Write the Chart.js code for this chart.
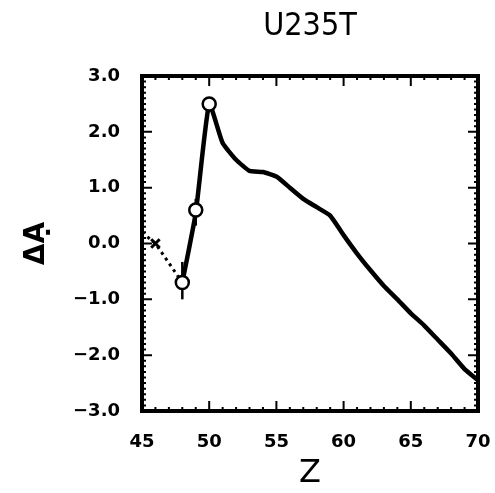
<!DOCTYPE html>
<html>
<head>
<meta charset="utf-8">
<script src="https://cdn.jsdelivr.net/npm/chart.js@4"></script>
<style>
  html, body { margin: 0; padding: 0; background: #fff; }
  #wrap { width: 495px; height: 493px; }
</style>
</head>
<body>
<div id="wrap"><canvas id="grafico"></canvas></div>
<script>
// curva calculada (linha cheia)
const z_linha = [48, 49, 50, 51, 52, 53, 54, 55, 56, 57, 58, 59, 60, 61, 62, 63, 64, 65, 66, 67, 68, 69, 70]
const dA_linha = [-0.7, 0.55, 2.5, 1.8, 1.5, 1.3, 1.28, 1.2, 1.0, 0.8, 0.65, 0.5, 0.15, -0.18, -0.48, -0.76, -1.0, -1.25, -1.47, -1.72, -1.97, -2.25, -2.45]

// trecho pontilhado
const z_pont = [45, 46, 48]
const dA_pont = [0.2, 0.0, -0.7]

// pontos experimentais (circulos) com barras de erro
const z_exp = [48, 49, 50]
const dA_exp = [-0.7, 0.6, 2.5]
const erro_baixo = [-1.0, 0.32, 2.5]
const erro_alto = [-0.33, 0.8, 2.5]

// ponto marcado com x
const z_cruz = [46]
const dA_cruz = [0.0]

const titulo_texto = 'U235T'

const preto = '#000'
const fonte = "'DejaVu Sans', 'Noto Sans', sans-serif"

const pares = (xs, ys) => xs.map((x, i) => ({ x: x, y: ys[i] }))

const barras = z_exp.map((z, i) => ({
    data: [{ x: z, y: erro_baixo[i] }, { x: z, y: erro_alto[i] }],
    showLine: true,
    borderColor: preto,
    borderWidth: 2.5,
    pointRadius: 0,
    order: 3
}))

// titulo centrado sobre a area do grafico
const titulo = {
    id: 'titulo',
    afterDraw(chart) {
        const { ctx, chartArea: a } = chart
        ctx.save()
        ctx.fillStyle = preto
        ctx.font = "32px 'DejaVu Sans Condensed', 'Liberation Sans Narrow', sans-serif"
        ctx.textAlign = 'center'
        ctx.textBaseline = 'middle'
        ctx.fillText(titulo_texto, (a.left + a.right) / 2, 27)
        ctx.restore()
    }
}

const moldura = {
    id: 'moldura',
    afterDatasetsDraw(chart) {
        const { ctx, chartArea: a, scales } = chart
        const sx = scales.x, sy = scales.y
        ctx.save()
        ctx.strokeStyle = preto
        ctx.lineWidth = 2
        for (let v = sx.min; v <= sx.max + 1e-6; v += 1) {
            const px = sx.getPixelForValue(v)
            const len = (Math.round(v) % 5 === 0) ? 10 : 4
            ctx.beginPath()
            ctx.moveTo(px, a.bottom); ctx.lineTo(px, a.bottom - len)
            ctx.moveTo(px, a.top); ctx.lineTo(px, a.top + len)
            ctx.stroke()
        }
        for (let k = -30; k <= 30; k++) {
            const py = sy.getPixelForValue(k / 10)
            const len = (k % 10 === 0) ? 10 : 4
            ctx.beginPath()
            ctx.moveTo(a.left, py); ctx.lineTo(a.left + len, py)
            ctx.moveTo(a.right, py); ctx.lineTo(a.right - len, py)
            ctx.stroke()
        }
        ctx.lineWidth = 4
        ctx.strokeRect(a.left, a.top, a.right - a.left, a.bottom - a.top)
        ctx.restore()
    }
}

const data = {
    datasets: [
        {
            data: pares(z_linha, dA_linha),
            showLine: true,
            borderColor: preto,
            borderWidth: 4.5,
            pointRadius: 0,
            tension: 0.15,
            order: 2
        },
        {
            data: pares(z_pont, dA_pont),
            showLine: true,
            borderColor: preto,
            borderWidth: 3,
            borderDash: [3, 4],
            pointRadius: 0,
            order: 2
        },
        ...barras,
        {
            data: pares(z_exp, dA_exp),
            showLine: false,
            pointStyle: 'circle',
            pointRadius: 6.5,
            pointBorderWidth: 2.5,
            pointBorderColor: preto,
            pointBackgroundColor: '#fff',
            order: 1
        },
        {
            data: pares(z_cruz, dA_cruz),
            showLine: false,
            pointStyle: 'crossRot',
            pointRadius: 6,
            pointBorderWidth: 3,
            pointBorderColor: preto,
            order: 1
        }
    ]
}

const config = {
    type: 'scatter',
    data: data,
    options: {
        responsive: true,
        maintainAspectRatio: false,
        animation: false,
        layout: { padding: { left: 0, right: 17, top: 76, bottom: 0 } },
        plugins: {
            legend: { display: false },
            tooltip: { enabled: false },
            title: { display: false }
        },
        scales: {
            x: {
                type: 'linear',
                min: 45,
                max: 70,
                grid: { display: false, drawTicks: false },
                border: { display: false },
                ticks: {
                    stepSize: 5,
                    color: preto,
                    padding: 21,
                    font: { family: fonte, size: 18, weight: 'bold' }
                },
                title: {
                    display: true,
                    text: 'Z',
                    color: preto,
                    font: { family: fonte, size: 32 },
                    padding: { top: 0, bottom: 0 }
                },
                afterFit(s) {
                    s.height = 82
                    s.paddingLeft = 0
                    s.paddingRight = 0
                }
            },
            y: {
                type: 'linear',
                min: -3,
                max: 3,
                grid: { display: false, drawTicks: false },
                border: { display: false },
                ticks: {
                    stepSize: 1,
                    color: preto,
                    padding: 22,
                    font: { family: fonte, size: 18, weight: 'bold' },
                    callback: v => v.toFixed(1).replace('-', '\u2212')
                },
                title: {
                    display: true,
                    text: '\u0394\u1EA0',
                    color: preto,
                    font: { family: fonte, size: 28, weight: 'bold' },
                    padding: { top: 20, bottom: 0 }
                },
                afterFit(s) {
                    s.width = 142
                    s.paddingTop = 0
                    s.paddingBottom = 0
                }
            }
        }
    },
    plugins: [moldura, titulo]
}

const meuGrafico = new Chart(document.querySelector('#grafico'), config)
</script>
</body>
</html>
